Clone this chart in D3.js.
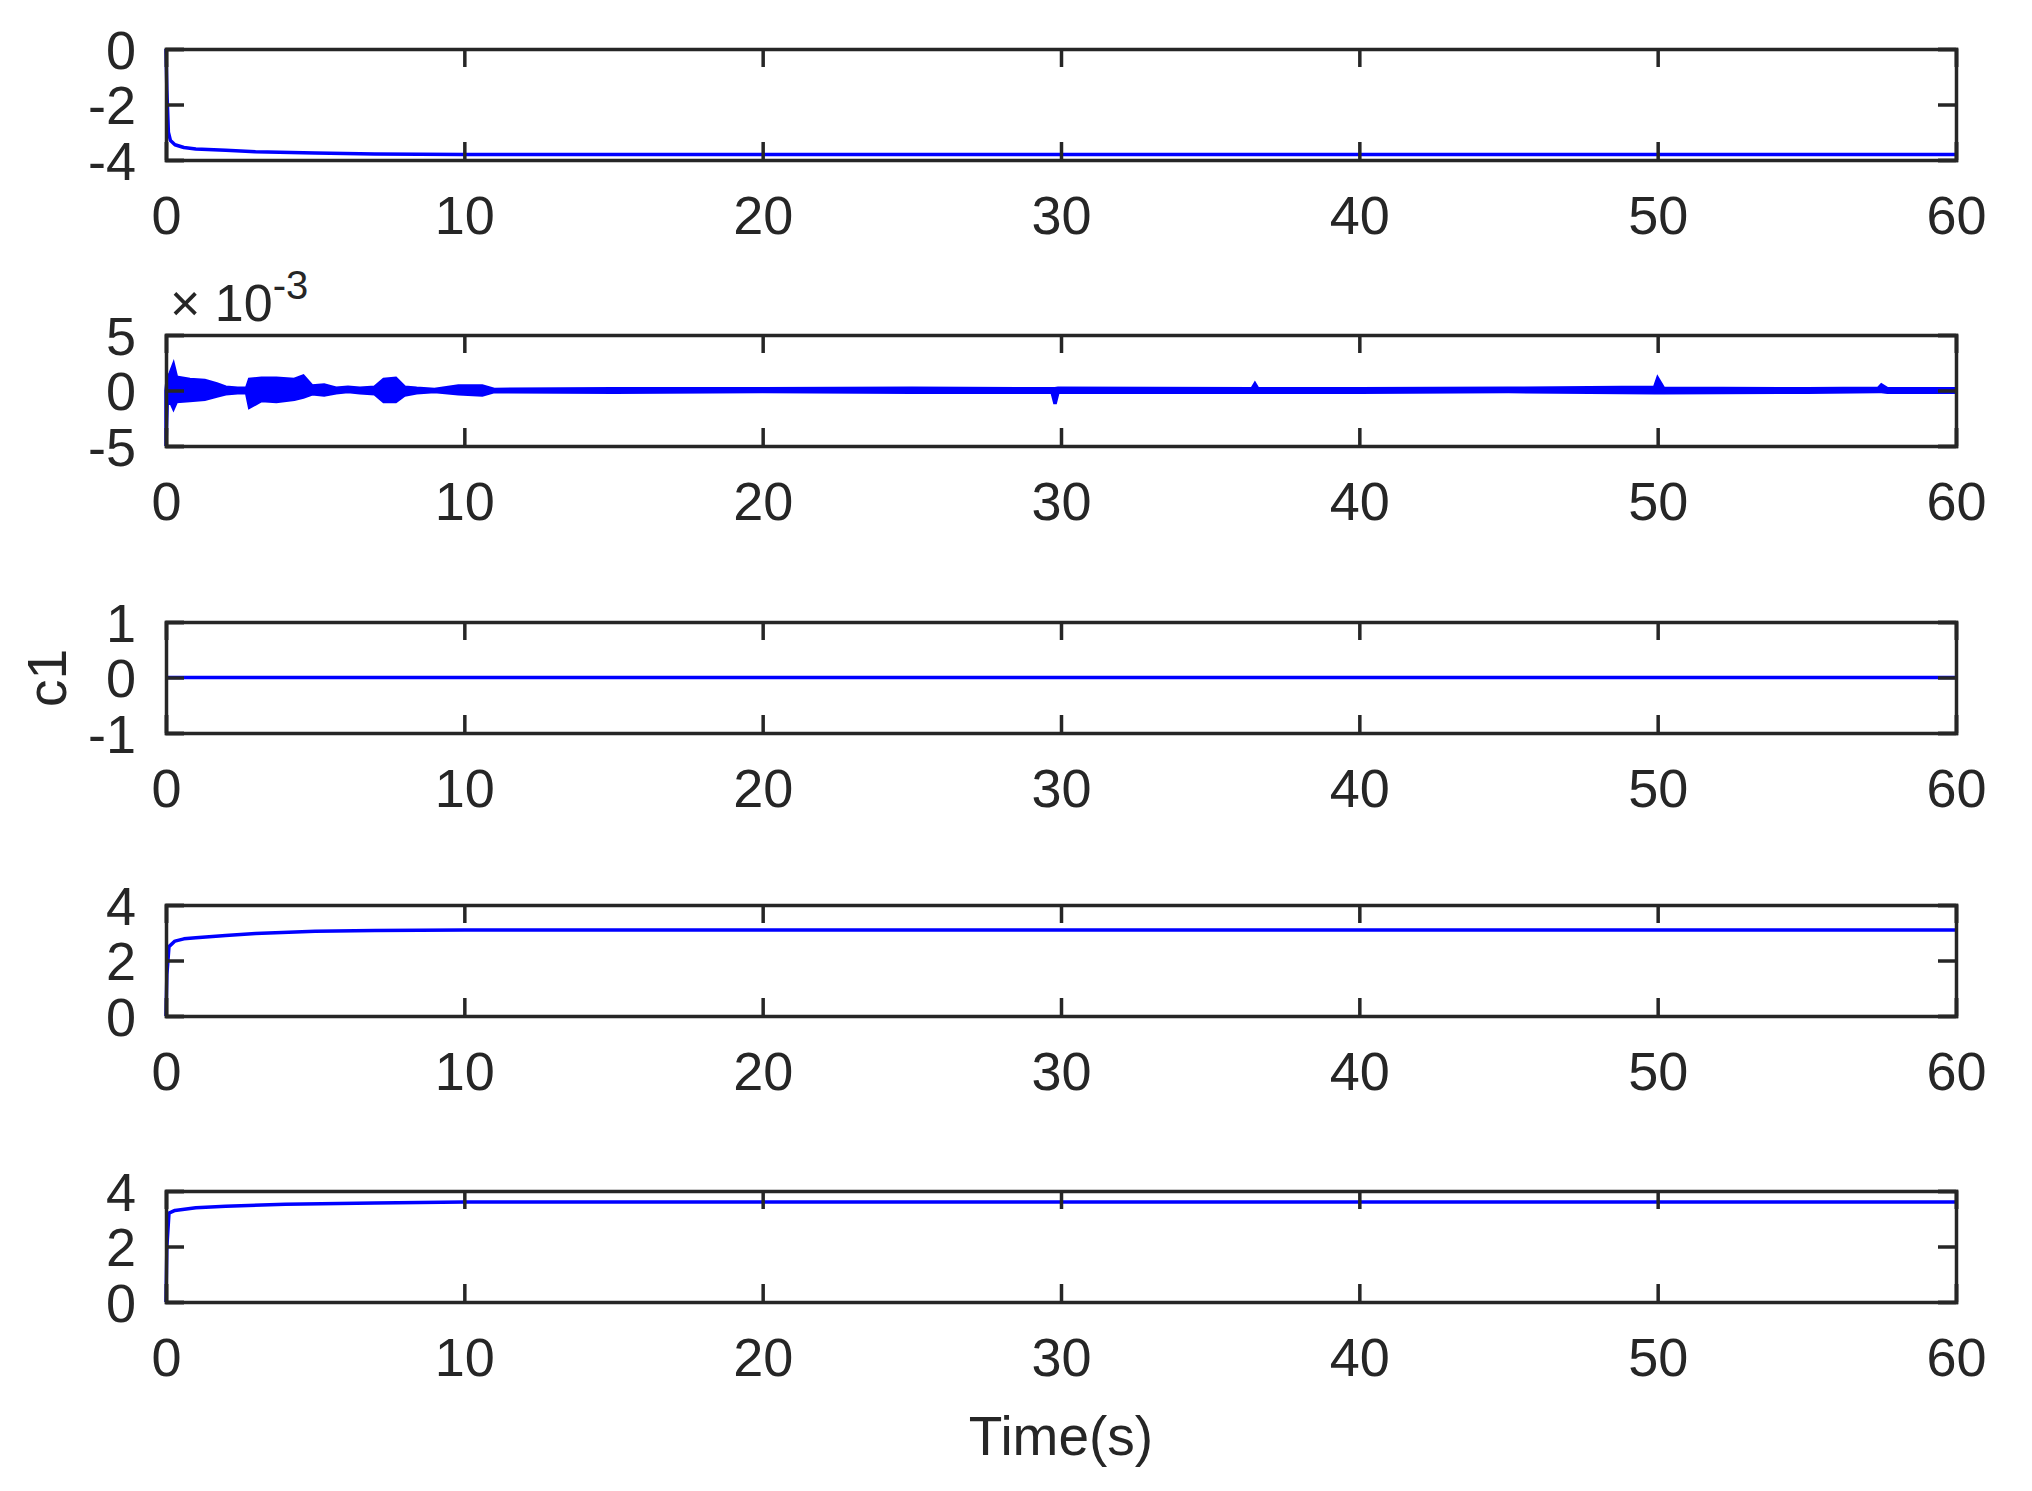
<!DOCTYPE html>
<html><head><meta charset="utf-8">
<script src="https://cdn.jsdelivr.net/npm/d3@7"></script>
<style>body{margin:0;background:#fff}text{font-family:"Liberation Sans",Arial,sans-serif;fill:#262626}</style>
</head><body><svg id="c" width="2032" height="1491"></svg>
<script>
const xTicks=[0,10,20,30,40,50,60];
const s1=[[0,0],[0.03,-1.5],[0.08,-3.0],[0.15,-3.3],[0.3,-3.45],[0.6,-3.55],[1,-3.6],[2,-3.65],[3,-3.7],[5,-3.75],[7,-3.78],[10,-3.8],[60,-3.8]];
const s1Ticks=[-4,-2,0];
// panel 2: noise envelope [t, low, high] (x10^-3)
const s2=[[0,-5,0],[0.04,-1.2,1.0],[0.15,-1.0,1.6],[0.25,-1.6,2.3],[0.35,-1.0,1.2],[0.8,-0.9,1.0],[1.3,-0.8,0.9],[1.7,-0.5,0.6],[2.0,-0.3,0.3],[2.4,-0.2,0.2],[2.7,-0.2,0.2],[2.8,-1.5,1.0],[3.2,-0.9,1.1],[3.7,-1.0,1.1],[4.3,-0.8,1.0],[4.6,-0.6,1.3],[4.9,-0.3,0.4],[5.3,-0.4,0.5],[5.7,-0.2,0.2],[6.1,-0.1,0.3],[6.5,-0.2,0.2],[7.0,-0.3,0.3],[7.3,-1.0,1.0],[7.7,-1.0,1.1],[8.0,-0.4,0.3],[8.4,-0.2,0.2],[9,-0.1,0.1],[9.8,-0.3,0.4],[10.6,-0.4,0.4],[11,-0.1,0.1],[15,-0.15,0.15],[20,-0.1,0.15],[25,-0.15,0.2],[29.7,-0.15,0.15],[29.8,-1.2,0.15],[29.9,-0.15,0.2],[36.4,-0.15,0.15],[36.5,-0.15,0.6],[36.6,-0.15,0.15],[40,-0.15,0.15],[45,-0.1,0.2],[49.9,-0.2,0.3],[50,-0.2,1.1],[50.2,-0.2,0.2],[55,-0.15,0.15],[57.4,-0.1,0.2],[57.5,-0.1,0.5],[57.7,-0.15,0.15],[60,-0.15,0.15]];
const s2Ticks=[-5,0,5];
const s3=[[0,0],[60,0]];
const s3Ticks=[-1,0,1];
const s4=[[0,0],[0.03,1.5],[0.1,2.5],[0.3,2.7],[0.6,2.78],[1,2.82],[2,2.9],[3,2.97],[5,3.05],[7,3.08],[10,3.1],[60,3.1]];
const s4Ticks=[0,2,4];
const s5=[[0,0],[0.03,2.0],[0.1,3.2],[0.3,3.3],[1,3.4],[2,3.45],[4,3.52],[7,3.57],[10,3.6],[60,3.6]];
const s5Ticks=[0,2,4];

const panels=[
 {data:s1,dom:[-4,0],ticks:s1Ticks,top:49},
 {data:s2,dom:[-5,5],ticks:s2Ticks,top:335,exp:true,band:true},
 {data:s3,dom:[-1,1],ticks:s3Ticks,top:622},
 {data:s4,dom:[0,4],ticks:s4Ticks,top:905},
 {data:s5,dom:[0,4],ticks:s5Ticks,top:1191}];
const L=166,R=1956,H=111;
const svg=d3.select("#c");
const x=d3.scaleLinear().domain([0,60]).range([L,R]);
const fmt=d=>String(d);
panels.forEach(p=>{
 const y=d3.scaleLinear().domain(p.dom).range([p.top+H,p.top]);
 const g=svg.append("g");
 if(p.band){
  g.append("path").datum(p.data).attr("fill","#0000ff").attr("stroke","#0000ff").attr("stroke-width",3.5)
   .attr("d",d3.area().x(d=>x(d[0])).y0(d=>y(d[1])).y1(d=>y(d[2])));
 } else {
  g.append("path").datum(p.data).attr("fill","none").attr("stroke","#0000ff").attr("stroke-width",3.5)
   .attr("stroke-linejoin","round").attr("d",d3.line().x(d=>x(d[0])).y(d=>y(d[1])));
 }
 const ax=g.append("g").attr("transform",`translate(0,${p.top+H})`)
  .call(d3.axisBottom(x).tickValues(xTicks).tickSize(-18).tickPadding(36).tickFormat(fmt));
 const ax2=g.append("g").attr("transform",`translate(0,${p.top})`)
  .call(d3.axisTop(x).tickValues(xTicks).tickSize(-18).tickFormat(""));
 const ay=g.append("g").attr("transform",`translate(${L},0)`)
  .call(d3.axisLeft(y).tickValues(p.ticks).tickSize(-18).tickPadding(30).tickFormat(fmt));
 const ay2=g.append("g").attr("transform",`translate(${R},0)`)
  .call(d3.axisRight(y).tickValues(p.ticks).tickSize(-18).tickFormat(""));
 [ax,ax2,ay,ay2].forEach(a=>{a.selectAll("path,line").attr("stroke","#262626").attr("stroke-width",3.5);
   a.selectAll("text").attr("font-size",54).attr("fill","#262626").attr("font-family","Liberation Sans, Arial");});
 ax.selectAll("text").attr("dy","0.71em");
 ay.selectAll("text").attr("dy","0.36em");
 if(p.exp){
  const t=g.append("text").attr("x",170).attr("y",p.top-14).attr("font-size",52);
  t.append("tspan").text("\u00d7 10");
  t.append("tspan").attr("dy",-22).attr("font-size",40).text("-3");
 }
});
svg.append("text").attr("x",(L+R)/2).attr("y",1455).attr("text-anchor","middle").attr("font-size",55).text("Time(s)");
svg.append("text").attr("transform","translate(66,678) rotate(-90)").attr("text-anchor","middle").attr("font-size",55).text("c1");
</script></body></html>
